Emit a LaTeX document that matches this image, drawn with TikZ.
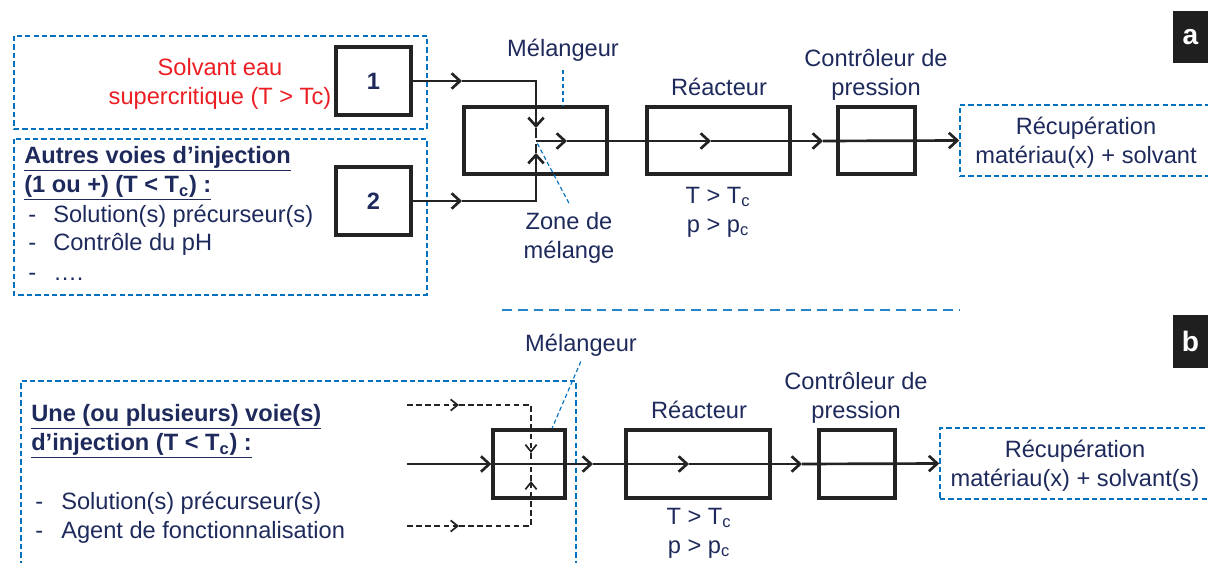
\documentclass[tikz,border=0pt]{standalone}
\usepackage{fontspec}
\setmainfont{Liberation Sans}
\usepackage{xcolor}
\usepackage{tikz}
\usetikzlibrary{arrows.meta}
\definecolor{SchemeNavy}{RGB}{31,42,92}
\definecolor{SchemeBlue}{RGB}{0,112,192}
\definecolor{SchemeRed}{RGB}{235,30,35}
\definecolor{SchemeLine}{RGB}{35,35,35}
\newcommand{\diagfont}{\fontsize{16.8}{20.6}\selectfont}

\tikzset{
  unitbox/.style={draw=SchemeLine, line width=2.3pt, inner sep=0pt},
  zone/.style={draw=SchemeBlue, line width=1pt, dash pattern=on 3.8pt off 2.2pt},
  leader/.style={draw=SchemeBlue, line width=0.8pt, dash pattern=on 3pt off 2pt},
  sep/.style={draw=SchemeBlue!85, line width=1.4pt, dash pattern=on 7pt off 4.2pt},
  pipe/.style={draw=SchemeLine, line width=1.9pt},
  flow/.style={pipe, -{Straight Barb[length=6pt,width=11pt]}},
  feedline/.style={draw=SchemeLine, line width=1.2pt, dash pattern=on 4pt off 2.5pt},
  feed/.style={feedline, -{Straight Barb[length=5pt,width=8pt]}},
  lbl/.style={text=SchemeNavy, align=center, font=\diagfont, inner sep=0pt},
  item/.style={lbl, anchor=base west},
  tag/.style={fill=black!88, text=white, font=\fontsize{20}{24}\selectfont\bfseries, inner sep=0pt}
}

\begin{document}
\begin{tikzpicture}[x=0.025cm, y=-0.025cm]
  \useasboundingbox (0,0) rectangle (1208,563);

  % ---- a ----
  \draw[zone] (14,36) rectangle (427,129);
  \draw[zone] (14,139) rectangle (427,295);
  \node[lbl, text=SchemeRed] (solvant) at (220,84) {Solvant eau\\supercritique (T > Tc)};
  \node[lbl, align=left, anchor=west, font=\diagfont\bfseries] (autres) at (24,173.5) {\underline{Autres voies d’injection}\\\underline{(1 ou +) (T < T\textsubscript{c}) :}};
  \node[item] (dashA1) at (28,223) {-};
  \node[item] (itemA1) at (53,223) {Solution(s) précurseur(s)};
  \node[item] (dashA2) at (28,251) {-};
  \node[item] (itemA2) at (53,251) {Contrôle du pH};
  \node[item] (dashA3) at (28,281) {-};
  \node[item] (itemA3) at (53,281) {….};

  \node[unitbox, minimum width=1.875cm, minimum height=1.7cm, text=SchemeNavy, font=\diagfont\bfseries] (one) at (373.5,81) {1};
  \node[unitbox, minimum width=1.875cm, minimum height=1.7cm, text=SchemeNavy, font=\diagfont\bfseries] (two) at (373.5,201) {2};
  \node[unitbox, minimum width=3.575cm, minimum height=1.675cm] (mixA) at (535.5,140.5) {};
  \node[unitbox, minimum width=3.575cm, minimum height=1.675cm] (reacA) at (718.5,140.5) {};
  \node[unitbox, minimum width=1.925cm, minimum height=1.675cm] (ctrlA) at (876.5,140.5) {};
  \node[zone, lbl, minimum width=6.35cm, minimum height=1.775cm] (recA) at (1087,140.5) {};
  \node[lbl] (recAtext) at (1086,142.5) {Récupération\\matériau(x) + solvant};

  \node[lbl] (melA) at (563,50) {Mélangeur};
  \node[lbl] (zoneA) at (569,237.5) {Zone de\\mélange};
  \node[lbl] (reacAlbl) at (719,87) {Réacteur};
  \node[lbl] (ctrlAlbl) at (876,74.5) {Contrôleur de\\pression};
  \node[lbl] (condA) at (718,212) {T > T\textsubscript{c}\\p > p\textsubscript{c}};
  \node[tag, minimum width=0.875cm, minimum height=1.3cm] (taga) at (1190.5,37) {a};

  \coordinate (a1tip) at (462,81);
  \coordinate (a1down) at (536,128);
  \coordinate (a2tip) at (462,201);
  \coordinate (a2up) at (536,153);
  \coordinate (amix) at (536,141);
  \coordinate (aout) at (567,141);
  \coordinate (areac) at (711,141);
  \coordinate (actrl) at (823,141);

  \draw[flow] (one.east) -- (a1tip);
  \draw[flow] (a1tip) -| (a1down);
  \draw[pipe, shorten >=2pt] (a1down) -- (amix);
  \draw[flow] (two.east) -- (a2tip);
  \draw[flow] (a2tip) -| (a2up);
  \draw[pipe, shorten >=2pt] (a2up) -- (amix);
  \draw[flow] (amix) -- (aout);
  \draw[flow] (aout) -- (areac);
  \draw[flow] (areac) -- (actrl);
  \draw[flow] (actrl) -- (recA.west);

  \draw[leader, shorten <=6pt] (melA.south) -- (mixA.north -| melA.south);
  \draw[leader, shorten <=2pt] (amix) -- ([yshift=6pt]zoneA.north);

  \draw[sep] (502,310) -- (960,310);

  % ---- b ----
  \draw[zone] (21,566) |- (576,381) -- (576,566);
  \node[lbl, align=left, anchor=west, font=\diagfont\bfseries] (voies) at (31,431.5) {\underline{Une (ou plusieurs) voie(s)}\\\underline{d’injection (T < T\textsubscript{c}) :}};
  \node[item] (dashB1) at (35,509) {-};
  \node[item] (itemB1) at (61,509) {Solution(s) précurseur(s)};
  \node[item] (dashB2) at (35,538) {-};
  \node[item] (itemB2) at (61,538) {Agent de fonctionnalisation};

  \node[unitbox, minimum width=1.8cm, minimum height=1.7cm] (mixB) at (529,464) {};
  \node[unitbox, minimum width=3.6cm, minimum height=1.7cm] (reacB) at (698,464) {};
  \node[unitbox, minimum width=1.9cm, minimum height=1.7cm] (ctrlB) at (857,464) {};
  \node[zone, lbl, minimum width=6.85cm, minimum height=1.775cm] (recB) at (1077,463.5) {};
  \node[lbl] (recBtext) at (1075,466) {Récupération\\matériau(x) + solvant(s)};

  \node[lbl] (melB) at (581,345) {Mélangeur};
  \node[lbl] (reacBlbl) at (699,410) {Réacteur};
  \node[lbl] (ctrlBlbl) at (856,398) {Contrôleur de\\pression};
  \node[lbl] (condB) at (699,533) {T > T\textsubscript{c}\\p > p\textsubscript{c}};
  \node[tag, minimum width=0.875cm, minimum height=1.325cm] (tagb) at (1190.5,341.5) {b};

  \coordinate (bin) at (407,464);
  \coordinate (bout) at (593,464);
  \coordinate (breac) at (689,464);
  \coordinate (bctrl) at (802,464);
  \coordinate (bf1) at (407,405);
  \coordinate (bf1tip) at (459,405);
  \coordinate (bf1down) at (531,453);
  \coordinate (bf1end) at (531,462);
  \coordinate (bf2) at (407,526);
  \coordinate (bf2tip) at (459,526);
  \coordinate (bf2up) at (531,481);
  \coordinate (bf2end) at (531,467);

  \draw[flow] (bin) -- (mixB.west);
  \draw[flow] (mixB.west) -- (bout);
  \draw[flow] (bout) -- (breac);
  \draw[flow] (breac) -- (bctrl);
  \draw[flow] (bctrl) -- (recB.west);

  \draw[feed] (bf1) -- (bf1tip);
  \draw[feed] (bf1tip) -| (bf1down);
  \draw[feedline] (bf1down) -- (bf1end);
  \draw[feed] (bf2) -- (bf2tip);
  \draw[feed] (bf2tip) -| (bf2up);
  \draw[feedline] (bf2up) -- (bf2end);

  \draw[leader, shorten <=4pt] ([xshift=0.05cm]melB.south) -- ([xshift=0.575cm]mixB.north);
\end{tikzpicture}
\end{document}
